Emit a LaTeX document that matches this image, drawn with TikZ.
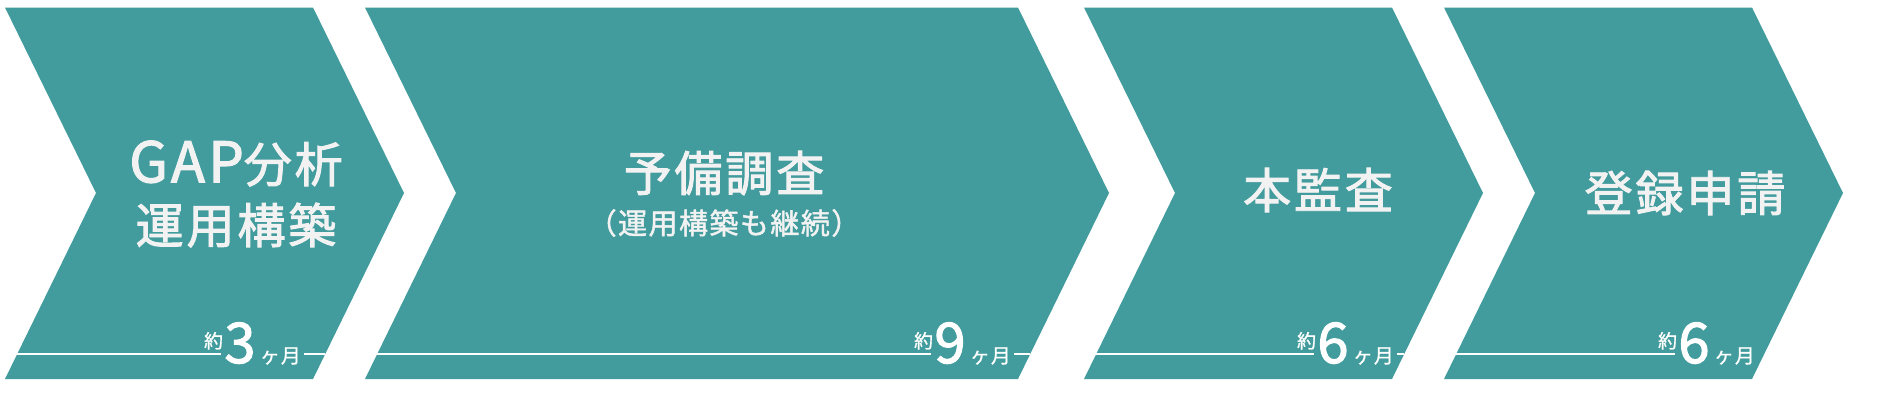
\documentclass[tikz,border=0pt]{standalone}
\usepackage{fontspec}
\setmainfont{Noto Sans CJK JP}
\usetikzlibrary{positioning}
\definecolor{tealgreen}{RGB}{66,156,157}
\definecolor{offwhite}{RGB}{242,242,242}

\begin{document}
\begin{tikzpicture}[x=1pt,y=-1pt,
  chevron/.style={fill=tealgreen},
  title/.style={text=offwhite,inner sep=0pt,align=center,
    font=\fontsize{48}{61}\selectfont\addfontfeature{LetterSpace=6,FakeBold=2}},
  subtitle/.style={text=offwhite,inner sep=0pt,
    font=\fontsize{29}{32}\selectfont\addfontfeature{LetterSpace=5,FakeBold=1.5}},
  num/.style={text=white,inner sep=0pt,anchor=base,
    font=\fontsize{56}{56}\selectfont\addfontfeature{FakeBold=2}},
  yaku/.style={text=white,inner sep=0pt,anchor=base east,
    font=\fontsize{19}{19}\selectfont\addfontfeature{FakeBold=1}},
  unit/.style={text=white,inner sep=0pt,anchor=base west,
    font=\fontsize{20}{20}\selectfont\addfontfeature{LetterSpace=5,FakeBold=1}},
  rule/.style={draw=white,line width=2pt}]
\fill [white] (0,0) rectangle (1883,416);
\useasboundingbox (0,0) rectangle (1883,416);

% chevrons
\foreach \l/\r in {5/313, 365/1018, 1084/1392, 1444/1752}
  \fill [chevron] (\l,7.5)--(\r,7.5)--(\r+91,193)--(\r,379)--(\l,379)--(\l+91,193)--cycle;

% titles
\node [title] (gap) at (236,194) {{\fontsize{56}{61}\selectfont GAP}分析\\運用構築};
\node [title] (yobi) at (724,173) {予備調査};
\node [subtitle] (keizoku) at (724,223) {（運用構築も継続）};
\node [title] (hon) at (1318,190) {本監査};
\node [title] (toroku) at (1685,193) {登録申請};

% durations
\foreach \i/\x/\n in {1/240/3, 2/950/9, 3/1333/6, 4/1694/6} {
  \node [num] (d\i) at (\x,363) {\n};
  \node [yaku] (y\i) at ([xshift=-1pt,yshift=15pt]d\i.base west) {約};
  \node [unit] (m\i) at ([xshift=4pt]d\i.base east) {ヶ月};
}
\foreach \i/\l in {1/17, 2/377, 3/1096, 4/1456} {
  \coordinate (a\i) at (\l,354);
  \draw [rule, shorten >=3pt] (a\i) -- (a\i -| d\i.west);
}
\foreach \i/\r in {1/325, 2/1030, 3/1404} {
  \coordinate (b\i) at (\r,354);
  \draw [rule, shorten <=3pt] (m\i.east |- b\i) -- (b\i);
}

\end{tikzpicture}
\end{document}
